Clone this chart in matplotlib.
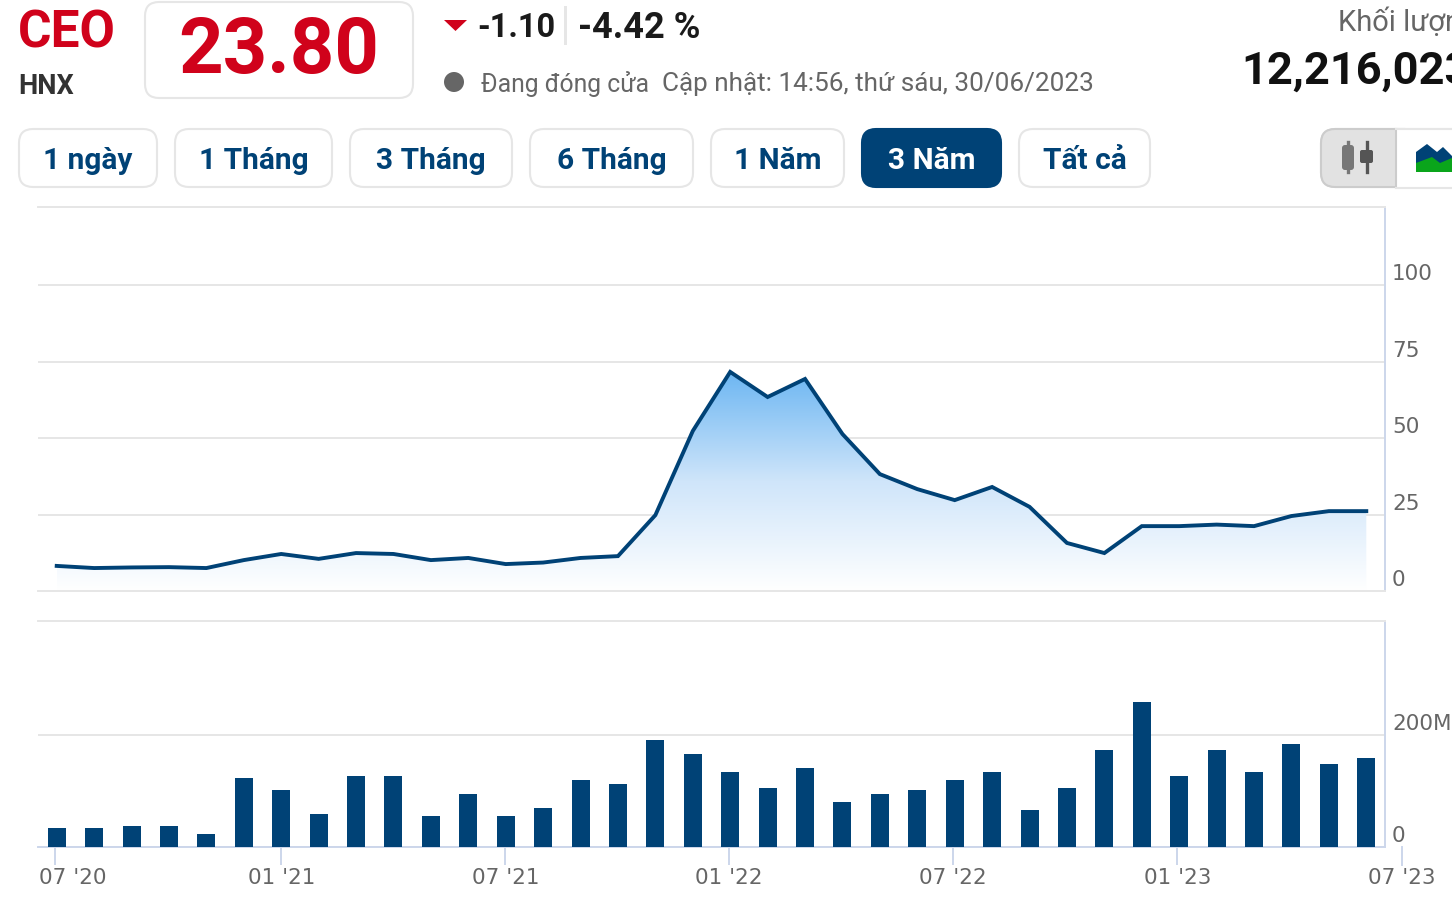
import numpy as np
import matplotlib
matplotlib.use('Agg')
import matplotlib.pyplot as plt
from matplotlib.patches import FancyBboxPatch, Rectangle, Polygon, Circle
from matplotlib.colors import LinearSegmentedColormap
from matplotlib.transforms import ScaledTranslation

plt.rcParams['font.family'] = ['DejaVu Sans']

W, H, DPI = 1452, 908, 100

# monthly close, 07/2020 -> 06/2023
prices = [8.2, 7.5, 7.7, 7.8, 7.5, 10.1, 12.1, 10.5, 12.4, 12.1, 10.1, 10.8,
          8.8, 9.3, 10.8, 11.4, 24.8, 52.3, 71.6, 63.4, 69.3, 51.3, 38.2, 33.3,
          29.7, 34.0, 27.5, 15.7, 12.4, 21.2, 21.2, 21.7, 21.2, 24.5, 26.1, 26.1]
# monthly volume, millions
volumes = [34, 34, 38, 38, 23, 123, 102, 59, 127, 127, 55, 95,
           55, 70, 120, 112, 191, 166, 134, 105, 141, 80, 95, 102,
           120, 134, 66, 105, 173, 259, 127, 173, 134, 184, 148, 159]
price_ticks = [0, 25, 50, 75, 100]
vol_ticks = [0, 200]
vol_tick_labels = ['0', '200M']
# ticks fall on calendar dates so they sit a little off the bar centres
month_ticks = [-0.05, 6, 11.99, 17.97, 23.96, 29.95, 35.95]
month_labels = ["07 '20", "01 '21", "07 '21", "01 '22", "07 '22", "01 '23", "07 '23"]
range_buttons = ['1 ngày', '1 Tháng', '3 Tháng', '6 Tháng', '1 Năm', '3 Năm', 'Tất cả']
button_edges = [(18, 158), (174, 333), (349, 513), (529, 694), (710, 845), (861, 1002), (1018, 1151)]
active_button = '3 Năm'

NAVY = '#004276'
RED = '#d0021b'
GRID = '#e6e6e6'
AXIS = '#ccd6eb'
LABEL = '#666666'
UI_FONT = ['Roboto', 'DejaVu Sans']


def px_axes(fig, left, top, right, bottom):
    return fig.add_axes([left / W, 1 - bottom / H, (right - left) / W, (bottom - top) / H])


def shift_label(label, dx, dy):
    label.set_transform(label.get_transform() + ScaledTranslation(dx / DPI, dy / DPI, fig.dpi_scale_trans))


def style_axes(ax):
    ax.set_xlim(-0.5, 35.5)
    ax.set_facecolor('none')
    ax.yaxis.tick_right()
    ax.grid(axis='y', color=GRID, lw=1.4)
    ax.set_axisbelow(True)
    ax.spines['left'].set_visible(False)
    ax.spines['top'].set_color(GRID)
    ax.spines['top'].set_linewidth(1.4)
    ax.spines['right'].set_color(AXIS)
    ax.spines['right'].set_linewidth(1.4)
    ax.tick_params(axis='y', length=0, pad=5, labelsize=15.5, labelcolor=LABEL)
    for lab in ax.get_yticklabels():
        lab.set_va('bottom')
        shift_label(lab, 0, 1)


fig = plt.figure(figsize=(W / DPI, H / DPI), dpi=DPI, facecolor='white')

# price panel
x = np.arange(len(prices))
ax = px_axes(fig, 38, 207, 1385, 591)
ax.set_ylim(0, 125.5)
ax.set_yticks(price_ticks)
ax.set_xticks([])
style_axes(ax)
ax.spines['bottom'].set_color(GRID)
ax.spines['bottom'].set_linewidth(1.4)

fade = LinearSegmentedColormap.from_list('fade', ['#ffffff', '#cfe5fa', '#6cb6f2'])
poly = ax.fill_between(x, 0, prices, color='none', lw=0)
grad = ax.imshow(np.linspace(1, 0, 256).reshape(-1, 1), cmap=fade, vmin=0, vmax=1, aspect='auto',
                 extent=(x[0], x[-1], 0, max(prices)), zorder=1.5)
grad.set_clip_path(poly.get_paths()[0], transform=ax.transData)
ax.set_xlim(-0.5, 35.5)
ax.set_ylim(0, 125.5)
ax.plot(x, prices, color=NAVY, lw=2.8, solid_joinstyle='miter', zorder=3)

# volume panel
ax2 = px_axes(fig, 38, 621, 1385, 847)
ax2.set_ylim(0, 403.6)
ax2.set_yticks(vol_ticks)
ax2.set_yticklabels(vol_tick_labels)
style_axes(ax2)
ax2.spines['bottom'].set_color(AXIS)
ax2.spines['bottom'].set_linewidth(1.4)
ax2.bar(x, volumes, width=0.48, color=NAVY, zorder=3)

ax2.set_xticks(month_ticks[:-1])
ax2.set_xticklabels(month_labels[:-1])
ax2.tick_params(axis='x', length=13, width=1.4, color=AXIS, pad=2, labelsize=15.5, labelcolor=LABEL)
first = ax2.get_xticklabels()[0]
first.set_ha('left')
shift_label(first, -16, 0)
# last tick sits past the plot edge, matplotlib would drop it
xt = ax2.get_xaxis_transform()
ax2.plot([month_ticks[-1]] * 2, [0, -0.08], transform=xt, color=AXIS, lw=1.4, clip_on=False)
ax2.annotate(month_labels[-1], (month_ticks[-1], 0), xycoords=xt, xytext=(0, -15),
             textcoords='offset points', ha='center', va='top', fontsize=15.5, color=LABEL, annotation_clip=False)

# header and buttons drawn in pixel coords
ui = fig.add_axes([0, 0, 1, 1], facecolor='none', zorder=-1)
ui.set_xlim(0, W)
ui.set_ylim(H, 0)
ui.axis('off')


def round_box(x0, y0, x1, y1, r=14, fc='white', ec=GRID, lw=1.5):
    box = FancyBboxPatch((x0 + r, y0 + r), x1 - x0 - 2 * r, y1 - y0 - 2 * r,
                         boxstyle=f'round,pad={r},rounding_size={r}', fc=fc, ec=ec, lw=lw)
    ui.add_patch(box)
    return box


def ui_text(px, py, s, size, color='#111111', weight='normal', ha='left'):
    ui.text(px, py, s, fontsize=size, color=color, fontweight=weight, ha=ha, va='center', family=UI_FONT)


ui_text(18, 33, 'CEO', 37, RED, 'bold')
ui_text(18, 86, 'HNX', 19.5, '#333333', 'bold')
round_box(145, 2, 413, 98, r=14)
ui_text(279, 52, '23.80', 56, RED, 'bold', ha='center')

ui.add_patch(Polygon([(444, 20), (467, 20), (455.5, 31)], fc=RED, ec='none'))
ui_text(477, 28, '-1.10', 23.5, '#1a1a1a', 'bold')
ui.add_patch(Rectangle((563.5, 6), 3, 39, fc=GRID, ec='none'))
ui_text(578, 28, '-4.42 %', 26, '#1a1a1a', 'bold')
ui.add_patch(Circle((454, 82), 10, fc=LABEL, ec='none'))
ui_text(481, 84, 'Đang đóng cửa', 17.8, LABEL)
ui_text(662, 84, 'Cập nhật: 14:56, thứ sáu, 30/06/2023', 18.8, LABEL)
ui_text(1338, 22, 'Khối lượng', 21, LABEL)
ui_text(1241, 72, '12,216,023', 32.5, '#111111', 'bold')

for name, (x0, x1) in zip(range_buttons, button_edges):
    on = name == active_button
    round_box(x0 + 1, 129, x1 - 1, 187, fc=NAVY if on else 'white', ec=NAVY if on else GRID)
    ui_text((x0 + x1) / 2, 161, name, 21.5, 'white' if on else NAVY, 'bold', ha='center')

# chart type switch, runs off the right edge
round_box(1321, 129, 1480, 187, fc='white')
ui.add_patch(FancyBboxPatch((1335, 143), 70, 30, boxstyle='round,pad=14,rounding_size=14', fc='#e2e2e2', ec='#cccccc', lw=1.5))
ui.add_patch(Rectangle((1396, 129), 60, 58, fc='white', ec='none'))
ui.plot([1395.5, 1395.5], [129, 187], color='#cccccc', lw=1.5)
ui.plot([1396, 1452], [187.5, 187.5], color=GRID, lw=1.5)
ui.plot([1396, 1452], [128.5, 128.5], color=GRID, lw=1.5)
ui.plot([1348, 1348], [142, 172], color='#777777', lw=2.4)
ui.plot([1366.5, 1366.5], [142, 172], color='#555555', lw=2.4)
ui.add_patch(FancyBboxPatch((1344, 147), 8, 21, boxstyle='round,pad=2,rounding_size=3', fc='#777777', ec='none'))
ui.add_patch(FancyBboxPatch((1362, 152), 9, 9, boxstyle='round,pad=2,rounding_size=2', fc='#555555', ec='none'))
ui.add_patch(Polygon([(1416, 172), (1416, 152), (1427, 144), (1437, 152), (1443, 147), (1452, 156), (1452, 172)], fc=NAVY, ec='none'))
ui.add_patch(Polygon([(1416, 172), (1416, 163), (1432, 157), (1440, 163), (1452, 158), (1452, 172)], fc='#0aa51b', ec='none'))

fig.savefig('out.png', dpi=DPI)
